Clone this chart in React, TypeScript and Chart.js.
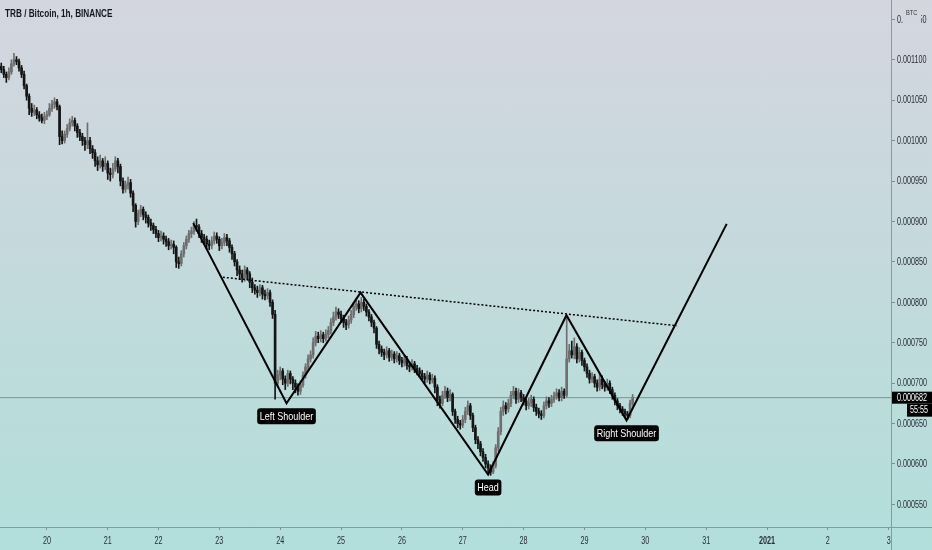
import React, { useEffect, useRef } from 'react';
import { Chart, registerables } from 'chart.js';

Chart.register(...registerables);

// Prices are in micro-BTC (1e-6 BTC): 1100 -> 0.001100
const TITLE = 'TRB / Bitcoin, 1h, BINANCE';
const FIRST_BAR = -18; // hourly bar index of the first candle (0 = start of day 20)

const opens = [
  1092, 1088, 1082, 1078, 1085, 1095, 1100, 1098, 1090, 1082,
  1068, 1055, 1040, 1035, 1038, 1032, 1028, 1025, 1030, 1032,
  1040, 1045, 1048, 1042, 1005, 1000, 1008, 1015, 1022, 1025,
  1018, 1010, 1005, 1000, 995, 1000, 990, 985, 975, 970,
  975, 968, 972, 960, 958, 965, 975, 968, 950, 940,
  945, 948, 935, 920, 900, 910, 915, 908, 905, 898,
  895, 890, 885, 880, 882, 878, 875, 870, 872, 868,
  850, 848, 860, 870, 878, 885, 888, 895, 893, 885,
  880, 878, 872, 870, 876, 882, 878, 870, 874, 880,
  876, 868, 860, 850, 840, 835, 830, 840, 835, 825,
  818, 815, 812, 818, 810, 808, 812, 800, 785, 700,
  710, 715, 705, 700, 712, 705, 700, 695, 690, 698,
  710, 720, 730, 735, 750, 758, 755, 760, 755, 760,
  765, 775, 782, 788, 785, 780, 775, 772, 778, 785,
  795, 798, 792, 800, 795, 788, 782, 775, 768, 748,
  742, 738, 735, 740, 732, 736, 730, 734, 728, 725,
  730, 722, 720, 724, 718, 715, 712, 708, 705, 710,
  704, 706, 695, 680, 675, 685, 690, 682, 686, 665,
  655, 650, 648, 655, 665, 672, 660, 645, 630, 625,
  615, 608, 600, 595, 590, 598, 620, 640, 665, 672,
  668, 675, 685, 690, 680, 688, 682, 678, 672, 676,
  680, 670, 665, 662, 660, 672, 678, 675, 680, 684,
  688, 682, 690, 685, 730, 740, 735, 745, 730, 738,
  728, 720, 712, 705, 708, 700, 695, 705, 698, 695,
  700, 692, 685, 678, 672, 668, 665, 662, 660, 675,
];

const highs = [
  1096, 1092, 1085, 1090, 1100, 1108, 1104, 1101, 1093, 1086,
  1070, 1058, 1046, 1044, 1041, 1036, 1033, 1035, 1037, 1046,
  1050, 1053, 1051, 1044, 1012, 1012, 1020, 1027, 1030, 1028,
  1021, 1014, 1009, 1004, 1022, 1004, 994, 989, 980, 982,
  978, 980, 975, 966, 972, 980, 978, 971, 954, 950,
  955, 952, 938, 922, 914, 920, 918, 912, 908, 903,
  898, 894, 889, 888, 886, 882, 879, 877, 876, 870,
  856, 864, 874, 882, 889, 893, 900, 903, 896, 889,
  884, 882, 877, 881, 887, 886, 881, 879, 885, 884,
  879, 871, 863, 853, 845, 840, 845, 843, 838, 830,
  822, 820, 822, 821, 815, 817, 815, 803, 790, 716,
  720, 718, 709, 716, 715, 708, 704, 699, 703, 714,
  724, 735, 740, 756, 764, 763, 765, 763, 766, 770,
  780, 788, 794, 792, 789, 784, 779, 783, 790, 800,
  805, 802, 806, 804, 798, 791, 785, 778, 770, 752,
  746, 742, 745, 743, 741, 739, 739, 737, 732, 735,
  733, 726, 729, 727, 722, 719, 716, 712, 715, 713,
  711, 709, 698, 684, 690, 696, 694, 692, 688, 668,
  659, 654, 660, 670, 678, 675, 663, 648, 634, 628,
  619, 612, 604, 599, 603, 624, 645, 670, 678, 676,
  680, 690, 696, 694, 693, 691, 686, 681, 681, 685,
  683, 674, 669, 666, 677, 683, 682, 685, 689, 693,
  692, 695, 693, 784, 748, 752, 756, 749, 744, 741,
  731, 724, 716, 713, 711, 704, 712, 709, 702, 705,
  703, 695, 688, 681, 675, 671, 668, 665, 679, 686,
];

const lows = [
  1084, 1078, 1072, 1075, 1082, 1092, 1094, 1086, 1078, 1064,
  1050, 1032, 1030, 1031, 1027, 1024, 1022, 1021, 1026, 1030,
  1036, 1040, 1038, 995, 996, 997, 1004, 1012, 1018, 1012,
  1004, 1000, 994, 988, 990, 984, 978, 968, 963, 966,
  962, 964, 952, 950, 954, 962, 960, 944, 935, 936,
  940, 930, 912, 893, 896, 906, 902, 898, 893, 889,
  885, 880, 875, 876, 872, 869, 865, 866, 860, 843,
  842, 845, 856, 866, 874, 880, 884, 888, 880, 874,
  872, 866, 865, 866, 872, 873, 864, 866, 870, 870,
  862, 853, 845, 833, 828, 825, 826, 828, 818, 812,
  810, 806, 808, 804, 803, 804, 795, 780, 680, 695,
  704, 698, 692, 696, 699, 692, 688, 685, 686, 695,
  706, 716, 726, 731, 746, 750, 751, 750, 752, 756,
  761, 771, 778, 780, 775, 769, 766, 768, 774, 781,
  790, 787, 788, 790, 783, 777, 770, 762, 743, 736,
  733, 729, 731, 727, 728, 725, 726, 723, 720, 721,
  717, 714, 716, 713, 710, 707, 703, 700, 701, 699,
  700, 688, 672, 669, 672, 681, 677, 678, 660, 650,
  645, 643, 645, 651, 661, 655, 640, 625, 619, 610,
  603, 595, 588, 586, 588, 595, 616, 636, 660, 662,
  664, 671, 681, 675, 676, 677, 673, 667, 668, 671,
  665, 660, 657, 655, 657, 668, 670, 671, 676, 680,
  678, 678, 681, 683, 726, 731, 730, 725, 726, 722,
  715, 707, 700, 701, 695, 690, 691, 693, 690, 691,
  687, 680, 673, 667, 663, 660, 657, 655, 657, 672,
];

const closes = [
  1088, 1082, 1078, 1085, 1095, 1100, 1098, 1090, 1082, 1068,
  1055, 1040, 1035, 1038, 1032, 1028, 1025, 1030, 1032, 1040,
  1045, 1048, 1042, 1005, 1000, 1008, 1015, 1022, 1025, 1018,
  1010, 1005, 1000, 995, 1000, 990, 985, 975, 970, 975,
  968, 972, 960, 958, 965, 975, 968, 950, 940, 945,
  948, 935, 920, 900, 910, 915, 908, 905, 898, 895,
  890, 885, 880, 882, 878, 875, 870, 872, 868, 850,
  848, 860, 870, 878, 885, 888, 895, 893, 885, 880,
  878, 872, 870, 876, 882, 878, 870, 874, 880, 876,
  868, 860, 850, 840, 835, 830, 840, 835, 825, 818,
  815, 812, 818, 810, 808, 812, 800, 785, 700, 710,
  715, 705, 700, 712, 705, 700, 695, 690, 698, 710,
  720, 730, 735, 750, 758, 755, 760, 755, 760, 765,
  775, 782, 788, 785, 780, 775, 772, 778, 785, 795,
  798, 792, 800, 795, 788, 782, 775, 768, 748, 742,
  738, 735, 740, 732, 736, 730, 734, 728, 725, 730,
  722, 720, 724, 718, 715, 712, 708, 705, 710, 704,
  706, 695, 680, 675, 685, 690, 682, 686, 665, 655,
  650, 648, 655, 665, 672, 660, 645, 630, 625, 615,
  608, 600, 595, 590, 598, 620, 640, 665, 672, 668,
  675, 685, 690, 680, 688, 682, 678, 672, 676, 680,
  670, 665, 662, 660, 672, 678, 675, 680, 684, 688,
  682, 690, 685, 730, 740, 735, 745, 730, 738, 728,
  720, 712, 705, 708, 700, 695, 705, 698, 695, 700,
  692, 685, 678, 672, 668, 665, 662, 660, 675, 682,
];

// x axis (hourly bar index) tick positions and their day labels
const xTickIdx = [0, 24, 44, 68, 92, 116, 140, 164, 188, 212, 236, 260, 284, 308, 332];
const xTickLabels = ['20', '21', '22', '23', '24', '25', '26', '27', '28', '29', '30', '31', '2021', '2', '3'];
const X_MIN = -18.5;
const X_MAX = 332.9;

const yTicks = [550, 600, 650, 700, 750, 800, 850, 900, 950, 1000, 1050, 1100, 1150];
const Y_MIN = 522;
const Y_MAX = 1174;

// Inverse head & shoulders drawing
const zigzagX = [57.7, 94.5, 123.7, 174.0, 204.9, 228.6, 268.1];
const zigzagY = [898, 675, 812, 587, 784, 654, 897];
const necklineX = [69.4, 248.4];
const necklineY = [831, 771];
const patternLabels = ['Left Shoulder', 'Head', 'Right Shoulder'];
const patternLabelAt = [1, 3, 5];

const lastPrice = 682;
const countdown = '55:55';

const SANS = "'Liberation Sans', Arial, sans-serif";
const UP = '#6e6e6e';
const DOWN = '#151515';
const AXIS_TEXT = '#2a2e39';

const fmt = (v: number) => (v / 1e6).toFixed(6);

function narrowText(
  ctx: CanvasRenderingContext2D,
  text: string,
  x: number,
  y: number,
  font: string,
  color: string,
  align: CanvasTextAlign = 'left',
  sx = 0.82,
) {
  ctx.save();
  ctx.font = font;
  ctx.fillStyle = color;
  ctx.textAlign = align;
  ctx.textBaseline = 'middle';
  ctx.translate(x, y);
  ctx.scale(sx, 1);
  ctx.fillText(text, 0, 0);
  ctx.restore();
}

function narrowWidth(ctx: CanvasRenderingContext2D, text: string, font: string, sx = 0.82) {
  ctx.save();
  ctx.font = font;
  const w = ctx.measureText(text).width * sx;
  ctx.restore();
  return w;
}

const overlayPlugin = {
  id: 'overlay',
  afterDatasetsDraw(chart: any) {
    const { ctx, scales } = chart;
    const x = scales.x;
    const y = scales.y;
    const font = `11px ${SANS}`;
    patternLabels.forEach((t, j) => {
      const k = patternLabelAt[j];
      const cx = x.getPixelForValue(zigzagX[k]);
      const top = y.getPixelForValue(zigzagY[k]) + 5;
      const w = narrowWidth(ctx, t, font) + 5;
      const h = 16;
      ctx.save();
      ctx.fillStyle = '#000';
      ctx.beginPath();
      ctx.roundRect(cx - w / 2, top, w, h, 3);
      ctx.fill();
      ctx.restore();
      narrowText(ctx, t, cx, top + h / 2 + 0.5, font, '#fff', 'center');
    });
  },
  afterDraw(chart: any) {
    const { ctx, chartArea, scales } = chart;
    const x = scales.x;
    const y = scales.y;
    const W = chart.width;
    const H = chart.height;

    // axis line extensions
    ctx.save();
    ctx.strokeStyle = '#8a9999';
    ctx.lineWidth = 1;
    ctx.beginPath();
    ctx.moveTo(chartArea.right, chartArea.bottom + 0.5);
    ctx.lineTo(W, chartArea.bottom + 0.5);
    ctx.moveTo(chartArea.right + 0.5, chartArea.bottom);
    ctx.lineTo(chartArea.right + 0.5, H);
    ctx.stroke();
    ctx.restore();

    // price scale labels
    const yFont = `10px ${SANS}`;
    y.ticks.forEach((t: any) => {
      const py = y.getPixelForValue(t.value);
      if (py < 0 || py > chartArea.bottom) return;
      narrowText(ctx, fmt(t.value), chartArea.right + 6, py + 0.5, yFont, AXIS_TEXT, 'left', 0.72);
    });

    // time scale labels
    x.ticks.forEach((t: any) => {
      const i = xTickIdx.indexOf(t.value);
      if (i < 0) return;
      const px = x.getPixelForValue(t.value);
      const bold = xTickLabels[i] === '2021';
      narrowText(ctx, xTickLabels[i], px, chartArea.bottom + 14, `${bold ? 'bold ' : ''}10px ${SANS}`, AXIS_TEXT, 'center', 0.72);
    });

    // title
    narrowText(ctx, TITLE, 5, 14.5, `bold 10px ${SANS}`, '#131722', 'left');

    // BTC unit label on the price scale
    ctx.save();
    ctx.fillStyle = '#d4d6df';
    ctx.fillRect(chartArea.right + 12, 8, 18, 16);
    ctx.restore();
    narrowText(ctx, 'BTC', chartArea.right + 15, 13.5, `7px ${SANS}`, '#333', 'left');

    // last price tag
    const py = y.getPixelForValue(lastPrice);
    ctx.save();
    ctx.fillStyle = '#000';
    ctx.fillRect(chartArea.right + 1, py - 6, W - chartArea.right - 1, 12);
    ctx.fillRect(chartArea.right + 16, py + 6, W - chartArea.right - 16, 13);
    ctx.restore();
    narrowText(ctx, fmt(lastPrice), chartArea.right + 6, py + 0.5, `10px ${SANS}`, '#fff', 'left', 0.72);
    narrowText(ctx, countdown, chartArea.right + 19, py + 12.5, `10px ${SANS}`, '#fff', 'left', 0.72);
  },
};

export default function App() {
  const ref = useRef<HTMLCanvasElement | null>(null);

  useEffect(() => {
    const canvas = ref.current;
    if (!canvas) return;

    const wickData = closes.map((_, k) => ({ x: FIRST_BAR + k, y: [lows[k], highs[k]] }));
    const bodyData = closes.map((c, k) => {
      const lo = Math.min(opens[k], c);
      const hi = Math.max(opens[k], c);
      return { x: FIRST_BAR + k, y: hi - lo < 1 ? [lo - 0.5, lo + 0.5] : [lo, hi] };
    });
    const colorOf = (c: any) => (closes[c.dataIndex] >= opens[c.dataIndex] ? UP : DOWN);

    const chart = new Chart(canvas, {
      type: 'bar',
      data: {
        datasets: [
          {
            type: 'line',
            label: 'Pattern',
            data: zigzagX.map((vx, k) => ({ x: vx, y: zigzagY[k] })),
            borderColor: '#000',
            borderWidth: 2,
            pointRadius: 0,
            tension: 0,
            order: 0,
          } as any,
          {
            type: 'line',
            label: 'Neckline',
            data: necklineX.map((vx, k) => ({ x: vx, y: necklineY[k] })),
            borderColor: '#000',
            borderWidth: 1.5,
            borderDash: [2, 2],
            pointRadius: 0,
            order: 0,
          } as any,
          {
            type: 'bar',
            label: 'Body',
            data: bodyData,
            backgroundColor: colorOf,
            barThickness: 2,
            grouped: false,
            order: 2,
          } as any,
          {
            type: 'bar',
            label: 'Wick',
            data: wickData,
            backgroundColor: colorOf,
            barThickness: 1,
            grouped: false,
            order: 3,
          } as any,
          {
            type: 'line',
            label: 'Last',
            data: [
              { x: X_MIN, y: lastPrice },
              { x: X_MAX, y: lastPrice },
            ],
            borderColor: 'rgba(90,125,122,0.75)',
            borderWidth: 1,
            pointRadius: 0,
            order: 5,
          } as any,
        ],
      },
      options: {
        animation: false,
        responsive: false,
        maintainAspectRatio: false,
        devicePixelRatio: 1,
        layout: { padding: 0 },
        plugins: {
          legend: { display: false },
          tooltip: { enabled: false },
          title: { display: false },
        },
        scales: {
          x: {
            type: 'linear',
            position: 'bottom',
            offset: false,
            min: X_MIN,
            max: X_MAX,
            afterBuildTicks: (s: any) => {
              s.ticks = xTickIdx.map((v) => ({ value: v }));
            },
            afterFit: (s: any) => {
              s.height = 23;
              s.paddingLeft = 0;
              s.paddingRight = 0;
            },
            ticks: { display: false },
            grid: {
              display: true,
              offset: false,
              drawOnChartArea: false,
              drawTicks: true,
              tickLength: 3,
              color: '#7f8f8f',
            },
            border: { display: true, color: '#8a9999', width: 1 },
          },
          y: {
            type: 'linear',
            position: 'right',
            min: Y_MIN,
            max: Y_MAX,
            afterBuildTicks: (s: any) => {
              s.ticks = yTicks.map((v) => ({ value: v }));
            },
            afterFit: (s: any) => {
              s.width = 41;
              s.paddingTop = 0;
              s.paddingBottom = 0;
            },
            ticks: { display: false },
            grid: {
              display: true,
              drawOnChartArea: false,
              drawTicks: true,
              tickLength: 4,
              color: '#7f8f8f',
            },
            border: { display: true, color: '#8a9999', width: 1 },
          },
        },
      } as any,
      plugins: [overlayPlugin],
    });

    return () => chart.destroy();
  }, []);

  return (
    <div
      style={{
        position: 'fixed',
        left: 0,
        top: 0,
        width: 932,
        height: 550,
        background: 'linear-gradient(to bottom, #d4d6df 0%, #c3dadc 50%, #b2dfdb 100%)',
      }}
    >
      <canvas ref={ref} width={932} height={550} style={{ display: 'block', width: 932, height: 550 }} />
    </div>
  );
}
